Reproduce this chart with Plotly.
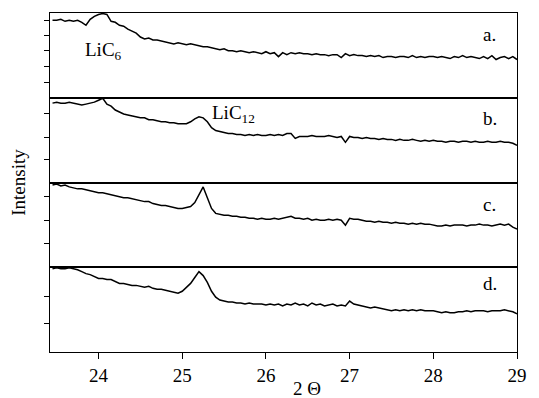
import numpy as np
import plotly.graph_objects as go
from plotly.subplots import make_subplots

# 2-theta grid: 23.45 .. 29.00, step 0.05
two_theta = np.round(23.45 + 0.05 * np.arange(112), 2)

curve_a = [79, 79, 80, 78, 79, 78, 79, 77, 74, 80,
           83, 85, 86, 85, 78, 77, 74, 73, 70, 68,
           66, 62, 60, 61, 59, 59, 58, 57, 56, 55,
           56, 55, 54, 55, 54, 53, 52, 52, 51, 50,
           49, 50, 48, 48, 47, 48, 47, 46, 47, 46,
           45, 47, 45, 46, 42, 46, 44, 46, 45, 46,
           45, 45, 44, 45, 44, 44, 43, 44, 44, 41,
           45, 43, 44, 43, 43, 42, 43, 42, 43, 41,
           42, 42, 41, 42, 42, 41, 43, 41, 42, 41,
           42, 42, 41, 42, 41, 40, 42, 41, 43, 41,
           42, 41, 40, 42, 40, 43, 39, 41, 42, 40,
           42, 39]

curve_b = [81, 82, 81, 81, 82, 81, 80, 79, 80, 81,
           82, 84, 86, 80, 78, 74, 72, 70, 69, 68,
           67, 66, 66, 64, 64, 63, 62, 62, 61, 61,
           60, 60, 60, 62, 65, 67, 66, 62, 56, 53,
           52, 51, 50, 50, 49, 49, 48, 49, 48, 49,
           48, 48, 49, 48, 49, 48, 50, 50, 45, 47,
           47, 47, 48, 47, 47, 47, 48, 47, 46, 47,
           41, 47, 46, 46, 45, 46, 45, 45, 44, 45,
           44, 44, 43, 44, 43, 43, 44, 43, 42, 43,
           42, 43, 42, 42, 41, 42, 42, 41, 42, 42,
           41, 42, 41, 41, 42, 41, 41, 42, 41, 41,
           40, 38]

curve_c = [84, 85, 83, 84, 82, 81, 80, 80, 79, 78,
           77, 76, 76, 75, 74, 73, 72, 71, 71, 70,
           69, 68, 67, 67, 65, 64, 63, 63, 62, 61,
           60, 60, 61, 62, 66, 74, 82, 71, 60, 55,
           54, 53, 53, 52, 52, 51, 51, 50, 50, 49,
           50, 49, 49, 50, 49, 50, 51, 52, 50, 50,
           49, 50, 48, 49, 48, 48, 49, 48, 49, 48,
           43, 50, 49, 49, 48, 47, 47, 46, 47, 46,
           46, 45, 46, 45, 45, 44, 45, 44, 45, 44,
           44, 43, 42, 42, 43, 42, 43, 43, 43, 42,
           43, 43, 44, 43, 43, 42, 43, 44, 43, 44,
           41, 39]

curve_d = [85, 86, 85, 85, 86, 85, 84, 82, 80, 79,
           77, 75, 75, 74, 74, 72, 70, 70, 69, 68,
           68, 67, 66, 67, 65, 64, 64, 63, 62, 61,
           60, 62, 66, 70, 76, 82, 78, 71, 62, 56,
           53, 52, 51, 51, 50, 50, 49, 50, 49, 49,
           49, 48, 49, 48, 49, 47, 49, 48, 50, 48,
           49, 47, 50, 48, 49, 47, 48, 49, 47, 48,
           47, 52, 49, 48, 47, 46, 45, 46, 45, 44,
           43, 42, 43, 42, 43, 42, 43, 42, 43, 42,
           42, 42, 41, 40, 41, 40, 40, 41, 41, 42,
           41, 42, 42, 42, 41, 42, 42, 42, 43, 42,
           41, 39]

curves = [curve_a, curve_b, curve_c, curve_d]
panel_labels = ["a.", "b.", "c.", "d."]
label_y = [65, 65, 64, 70]
ytick_sets = [[16, 32, 48, 64, 79], [23, 46, 70], [24, 48, 72], [29, 57]]
x_ticks = [24, 25, 26, 27, 28, 29]

FONT = "Liberation Serif, Times New Roman, DejaVu Serif, serif"

fig = make_subplots(rows=4, cols=1, shared_xaxes=True, vertical_spacing=0)

for i, c in enumerate(curves):
    fig.add_trace(go.Scatter(x=two_theta, y=c, mode="lines",
                             line=dict(color="black", width=1.5),
                             showlegend=False, cliponaxis=False), row=i + 1, col=1)
    fig.update_yaxes(range=[0, 86.5], showline=True, mirror=True, linecolor="black",
                     linewidth=1.2, ticks="outside", ticklen=5, tickcolor="black",
                     tickvals=ytick_sets[i], showticklabels=False, showgrid=False,
                     zeroline=False, row=i + 1, col=1)
    fig.update_xaxes(range=[23.42, 29.0], showline=True, mirror=True, linecolor="black",
                     linewidth=1.2, showgrid=False, zeroline=False,
                     ticks="outside" if i == 3 else "", ticklen=6, tickcolor="black",
                     tickvals=x_ticks, showticklabels=(i == 3),
                     tickfont=dict(family=FONT, size=19, color="black"),
                     row=i + 1, col=1)
    yref = "y" if i == 0 else "y%d" % (i + 1)
    xref = "x" if i == 0 else "x%d" % (i + 1)
    fig.add_annotation(x=28.57, y=label_y[i], xref=xref, yref=yref, text=panel_labels[i],
                       showarrow=False, xanchor="left", yanchor="middle",
                       font=dict(family=FONT, size=19, color="black"))

fig.add_annotation(x=23.81, y=48, xref="x", yref="y", text="LiC<sub>6</sub>",
                   showarrow=False, xanchor="left", yanchor="middle",
                   font=dict(family=FONT, size=19, color="black"))
fig.add_annotation(x=25.33, y=70, xref="x2", yref="y2", text="LiC<sub>12</sub>",
                   showarrow=False, xanchor="left", yanchor="middle",
                   font=dict(family=FONT, size=19, color="black"))

fig.add_annotation(x=-0.068, y=0.5, xref="paper", yref="paper", text="Intensity",
                   textangle=-90, showarrow=False, xanchor="center", yanchor="middle",
                   font=dict(family=FONT, size=19, color="black"))
fig.add_annotation(x=0.55, y=-0.108, xref="paper", yref="paper", text="2 Θ",
                   showarrow=False, xanchor="center", yanchor="middle",
                   font=dict(family=FONT, size=19, color="black"))

fig.update_layout(width=539, height=398, margin=dict(l=50, r=16, t=12, b=41),
                  paper_bgcolor="white", plot_bgcolor="white")

fig.write_html("out.html")
